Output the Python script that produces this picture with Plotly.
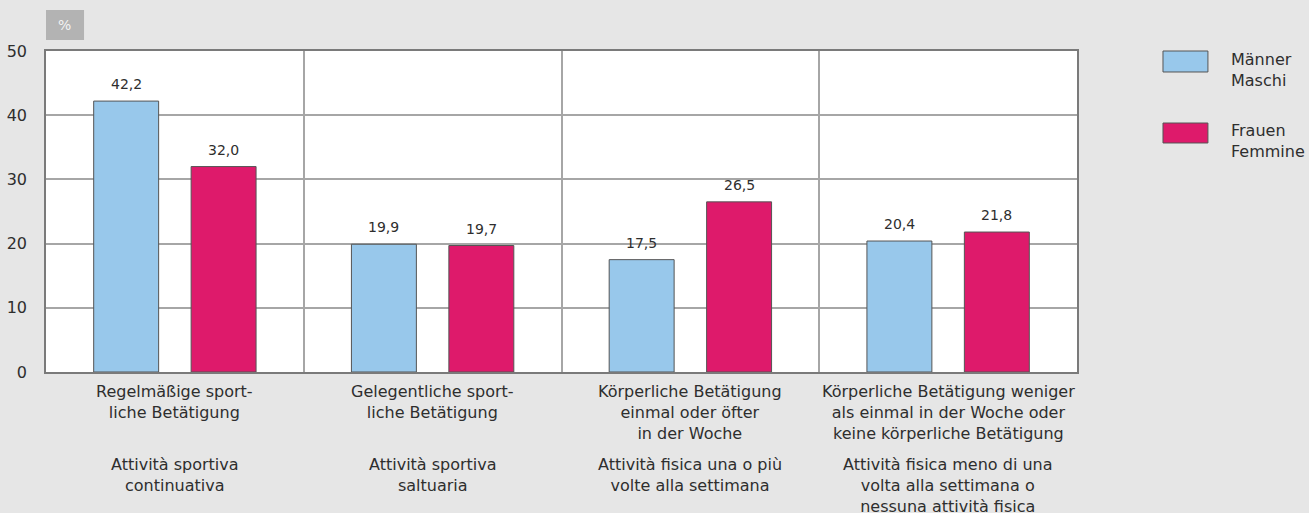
import plotly.graph_objects as go

labels_de = [
    "Regelmäßige sport-<br>liche Betätigung",
    "Gelegentliche sport-<br>liche Betätigung",
    "Körperliche Betätigung<br>einmal oder öfter<br>in der Woche",
    "Körperliche Betätigung weniger<br>als einmal in der Woche oder<br>keine körperliche Betätigung",
]
labels_it = [
    "Attività sportiva<br>continuativa",
    "Attività sportiva<br>saltuaria",
    "Attività fisica una o più<br>volte alla settimana",
    "Attività fisica meno di una<br>volta alla settimana o<br>nessuna attività fisica",
]
men = [42.2, 19.9, 17.5, 20.4]
women = [32.0, 19.7, 26.5, 21.8]
series_names = ["Männer<br>Maschi", "Frauen<br>Femmine"]
y_ticks = [0, 10, 20, 30, 40, 50]

BLUE = "#98C8EB"
PINK = "#DE1A6B"
BG = "#E6E6E6"
FONT = "DejaVu Sans, Liberation Sans, Arial, sans-serif"
TXT = "#2E2E2E"

xs = list(range(len(men)))
BW = 0.252
OFF = 0.189

fig = go.Figure()
fig.add_trace(go.Bar(x=xs, y=men, name="Männer", width=BW, offset=-OFF - BW / 2,
                     marker=dict(color=BLUE, line=dict(color="#555555", width=1)),
                     showlegend=False))
fig.add_trace(go.Bar(x=xs, y=women, name="Frauen", width=BW, offset=OFF - BW / 2,
                     marker=dict(color=PINK, line=dict(color="#555555", width=1)),
                     showlegend=False))

annotations = []
for i, (m, w) in enumerate(zip(men, women)):
    for dx, v in ((-OFF, m), (OFF, w)):
        annotations.append(dict(x=i + dx, y=v, xref="x", yref="y", text=f"{v:.1f}".replace(".", ","),
                                showarrow=False, yanchor="bottom", yshift=7,
                                font=dict(size=14, color=TXT, family=FONT)))
    annotations.append(dict(x=i, y=0, xref="x", yref="paper", text=labels_de[i], showarrow=False,
                            yanchor="top", yshift=-8, align="center",
                            font=dict(size=16, color=TXT, family=FONT)))
    annotations.append(dict(x=i, y=0, xref="x", yref="paper", text=labels_it[i], showarrow=False,
                            yanchor="top", yshift=-81, align="center",
                            font=dict(size=16, color=TXT, family=FONT)))

# "%" label
annotations.append(dict(x=0.0184, y=1.081, xref="paper", yref="paper", text="%", showarrow=False,
                        xanchor="center", yanchor="middle",
                        font=dict(size=14, color="#F2F2F2", family=FONT)))

shapes = [
    dict(type="rect", xref="paper", yref="paper", x0=0.0, x1=0.0369, y0=1.0343, y1=1.1277,
         fillcolor="#B3B3B3", line=dict(width=0), layer="below"),
]
leg_colors = [BLUE, PINK]
leg_y = [(1.0, 0.9346), (0.7757, 0.7134)]
leg_text_y = [0.942, 0.72]
for name, col, (y1, y0), ty in zip(series_names, leg_colors, leg_y, leg_text_y):
    shapes.append(dict(type="rect", xref="paper", yref="paper", x0=1.0834, x1=1.127, y0=y0, y1=y1,
                       fillcolor=col, line=dict(color="#555555", width=1)))
    annotations.append(dict(x=1.147, y=ty, xref="paper", yref="paper", text=name, showarrow=False,
                            xanchor="left", yanchor="middle", align="left",
                            font=dict(size=16, color=TXT, family=FONT)))

fig.update_layout(
    width=1309, height=513,
    margin=dict(l=46, r=232, t=51, b=141),
    paper_bgcolor=BG, plot_bgcolor="white",
    barmode="overlay",
    font=dict(family=FONT, color=TXT),
    annotations=annotations, shapes=shapes,
    xaxis=dict(range=[-0.5, 3.5], tickvals=[0.5, 1.5, 2.5], showticklabels=False, automargin=False,
               showgrid=True, gridcolor="#A6A6A6", gridwidth=1.5, zeroline=False,
               showline=True, mirror=True, linecolor="#7A7A7A", linewidth=1.5, fixedrange=True),
    yaxis=dict(range=[0, 50], tickvals=y_ticks, showgrid=True, gridcolor="#A6A6A6", gridwidth=1.5,
               zeroline=False, showline=True, mirror=True, linecolor="#7A7A7A", linewidth=1.5,
               automargin=False, ticks="outside", ticklen=14, tickcolor="rgba(0,0,0,0)",
               tickfont=dict(size=16, color=TXT, family=FONT)),
)

fig.write_html("out.html", config={"displayModeBar": False},
               post_script="document.body.style.margin='0';document.body.style.overflow='hidden';")
